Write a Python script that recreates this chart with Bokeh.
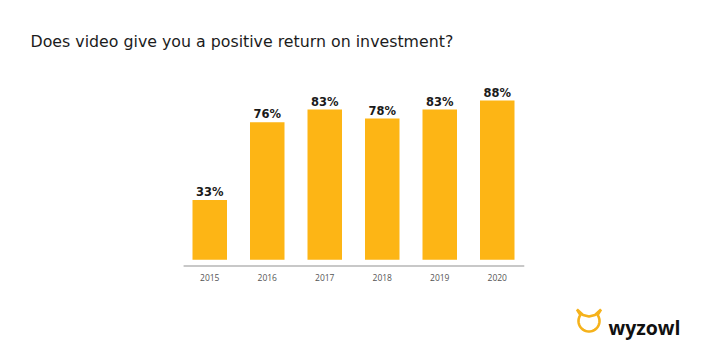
import numpy as np
from bokeh.plotting import figure
from bokeh.models import ColumnDataSource, Range1d, FactorRange, Label, PolyAnnotation
from bokeh.transform import dodge
from bokeh.core.properties import value
from bokeh.embed import file_html
from bokeh.resources import INLINE

title_text = "Does video give you a positive return on investment?"
years = ["2015", "2016", "2017", "2018", "2019", "2020"]
positive_roi = [33, 76, 83, 78, 83, 88]
value_labels = [f"{v}%" for v in positive_roi]
brand = "wyzowl"

W, H = 706, 354
STEP = 57.5                      # px per category
PAD = (W / STEP - len(years)) / 2
BASE_PX, PX_PER = 259.3, 1.81    # baseline pixel row, px per percent
Y0 = -(H - BASE_PX) / PX_PER
Y1 = BASE_PX / PX_PER
AXIS_Y = -(265.5 - BASE_PX) / PX_PER

source = ColumnDataSource(data=dict(year=years, roi=positive_roi, label=value_labels,
                                    axis_y=[AXIS_Y] * len(years)))
axis_src = ColumnDataSource(data=dict(x0=[years[0]], x1=[years[-1]], y=[AXIS_Y]))

p = figure(width=W, height=H, output_backend="svg", toolbar_location=None,
           x_range=FactorRange(*years, range_padding=PAD, range_padding_units="absolute"),
           y_range=Range1d(Y0, Y1),
           min_border=0, background_fill_color="white", border_fill_color="white",
           outline_line_color=None)
p.axis.visible = False
p.grid.visible = False

p.vbar(x="year", top="roi", bottom=0, width=0.6, source=source,
       fill_color="#FDB515", line_color=None)

p.text(x="year", y="roi", text="label", source=source, y_offset=-8,
       text_align="center", text_baseline="alphabetic",
       text_font=value("DejaVu Sans"), text_font_style="bold",
       text_font_size="11.5px", text_color="#1a1a1a")

# category axis: baseline and year labels
p.segment(x0=dodge("x0", -0.455, range=p.x_range), x1=dodge("x1", 0.47, range=p.x_range),
          y0="y", y1="y", source=axis_src, line_color="#c8c8c8", line_width=2)
p.text(x="year", y="axis_y", text="year", source=source, y_offset=11.5,
       text_align="center", text_baseline="middle",
       text_font=value("Open Sans"), text_font_size="8.5px", text_color="#555555")

# title and brand (screen units: x from left, y from bottom of the canvas)
p.add_layout(Label(x=30, y=H - 41, x_units="screen", y_units="screen",
                   text=title_text, text_font="DejaVu Sans", text_font_size="15.8px",
                   text_color="#1c1c1c", text_baseline="alphabetic", text_align="left"))
p.add_layout(Label(x=608, y=H - 327, x_units="screen", y_units="screen",
                   text=brand, text_font="Open Sans", text_font_style="bold",
                   text_font_size="19.5px", text_color="#111111",
                   text_baseline="alphabetic", text_align="left"))

cx, cy, r = 588.5, 320.5, 10.5
ang = np.deg2rad(np.linspace(35, -215, 36))
ox = [576.5, 582.5, 588.5, 594.5, 600.5] + list(cx + r * np.cos(ang)) + [576.5]
oy = [309.0, 314.5, 316.0, 314.5, 309.0] + list(cy - r * np.sin(ang)) + [309.0]
p.add_layout(PolyAnnotation(xs=ox, ys=[H - v for v in oy],
                            xs_units="screen", ys_units="screen",
                            fill_alpha=0, line_color="#F5B21B", line_alpha=1.0,
                            line_width=2.6))

open("out.html", "w").write(file_html(p, INLINE))
